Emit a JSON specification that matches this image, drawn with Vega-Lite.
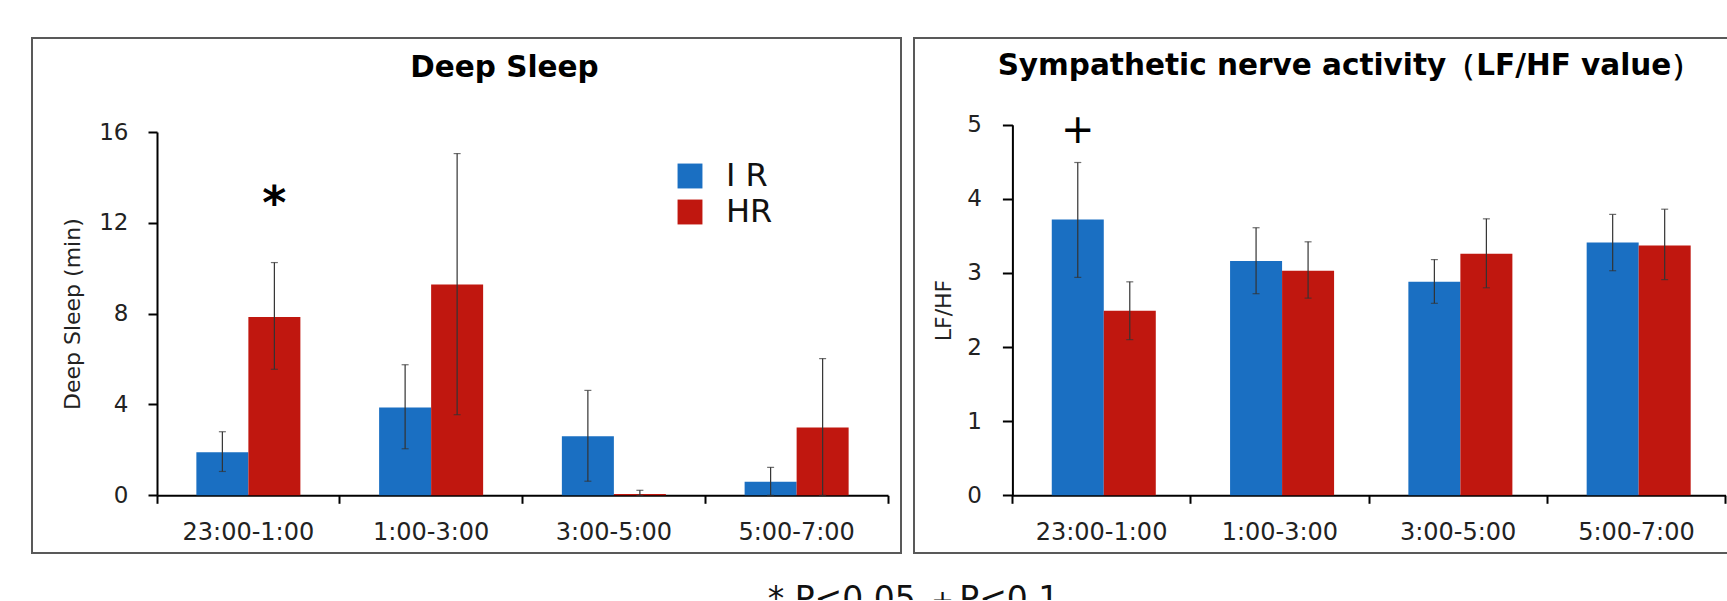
{
  "$schema": "https://vega.github.io/schema/vega-lite/v6.json",
  "background": "white",
  "padding": {"left": 31, "top": 37, "right": -57, "bottom": -17},
  "datasets": {
    "sleep": [
      {"period": "23:00-1:00", "group": "IR", "value": 1.9, "lo": 1.05, "hi": 2.8},
      {"period": "23:00-1:00", "group": "HR", "value": 7.85, "lo": 5.55, "hi": 10.25},
      {"period": "1:00-3:00", "group": "IR", "value": 3.87, "lo": 2.05, "hi": 5.75},
      {"period": "1:00-3:00", "group": "HR", "value": 9.28, "lo": 3.55, "hi": 15.05},
      {"period": "3:00-5:00", "group": "IR", "value": 2.6, "lo": 0.62, "hi": 4.62},
      {"period": "3:00-5:00", "group": "HR", "value": 0.06, "lo": 0, "hi": 0.22},
      {"period": "5:00-7:00", "group": "IR", "value": 0.6, "lo": 0, "hi": 1.23},
      {"period": "5:00-7:00", "group": "HR", "value": 2.99, "lo": 0, "hi": 6.02}
    ],
    "lfhf": [
      {"period": "23:00-1:00", "group": "IR", "value": 3.72, "lo": 2.94, "hi": 4.49},
      {"period": "23:00-1:00", "group": "HR", "value": 2.49, "lo": 2.1, "hi": 2.88},
      {"period": "1:00-3:00", "group": "IR", "value": 3.16, "lo": 2.72, "hi": 3.61},
      {"period": "1:00-3:00", "group": "HR", "value": 3.03, "lo": 2.66, "hi": 3.42},
      {"period": "3:00-5:00", "group": "IR", "value": 2.88, "lo": 2.59, "hi": 3.18},
      {"period": "3:00-5:00", "group": "HR", "value": 3.26, "lo": 2.8, "hi": 3.73},
      {"period": "5:00-7:00", "group": "IR", "value": 3.41, "lo": 3.03, "hi": 3.79},
      {"period": "5:00-7:00", "group": "HR", "value": 3.37, "lo": 2.91, "hi": 3.86}
    ],
    "sleepNote": [
      {"period": "23:00-1:00", "group": "HR", "y": 12.8, "label": "*"}
    ],
    "lfhfNote": [
      {"period": "23:00-1:00", "group": "IR", "y": 4.91, "label": "+"}
    ]
  },
  "title": {
    "text": "* P<0.05 ＋P<0.1",
    "orient": "bottom",
    "anchor": "middle",
    "frame": "bounds",
    "offset": 30,
    "dx": 6,
    "fontSize": 33,
    "font": "DejaVu Sans",
    "fontWeight": "normal",
    "baseline": "top",
    "color": "#111"
  },
  "spacing": 11,
  "resolve": {"scale": {"color": "independent"}, "legend": {"color": "independent"}},
  "hconcat": [
    {
      "width": 869,
      "height": 515,
      "title": {
        "text": "Deep Sleep",
        "font": "DejaVu Sans",
        "fontSize": 29.5,
        "fontWeight": "bold",
        "color": "black",
        "anchor": "middle",
        "frame": "group",
        "offset": -68,
        "baseline": "alphabetic",
        "dx": 38
      },
      "data": {"name": "sleep"},
      "encoding": {
        "x": {
          "field": "period",
          "type": "nominal",
          "sort": ["23:00-1:00", "1:00-3:00", "3:00-5:00", "5:00-7:00"],
          "scale": {"range": [125, 856], "paddingInner": 0, "paddingOuter": 0},
          "axis": {
            "title": null,
            "labelAngle": 0,
            "bandPosition": 1,
            "tickExtra": true,
            "offset": -57.7,
            "grid": false,
            "domainColor": "black",
            "domainWidth": 2,
            "tickColor": "black",
            "tickWidth": 2,
            "tickSize": 8,
            "labelFont": "DejaVu Sans",
            "labelFontSize": 24,
            "labelColor": "#222",
            "labelPadding": 17,
            "labelBaseline": "top"
          }
        },
        "xOffset": {
          "field": "group",
          "type": "nominal",
          "sort": ["IR", "HR"],
          "scale": {"paddingInner": 0, "paddingOuter": 0.757}
        }
      },
      "layer": [
        {
          "mark": {"type": "bar"},
          "encoding": {
            "y": {
              "field": "value",
              "type": "quantitative",
              "title": "Deep Sleep (min)",
              "scale": {"domain": [0, 16], "range": [457.3, 94], "nice": false},
              "axis": {
                "values": [0, 4, 8, 12, 16],
                "format": "d",
                "offset": -125,
                "grid": false,
                "domainColor": "black",
                "domainWidth": 2,
                "tickColor": "black",
                "tickWidth": 2,
                "tickSize": 9,
                "labelPadding": 20,
                "labelFont": "DejaVu Sans",
                "labelFontSize": 23,
                "labelColor": "#222",
                "titleFont": "DejaVu Sans",
                "titleFontSize": 22,
                "titleFontWeight": "normal",
                "titleColor": "#222",
                "titlePadding": 14
              }
            },
            "color": {
              "field": "group",
              "type": "nominal",
              "scale": {"domain": ["IR", "HR"], "range": ["#1A6FC2", "#C0170F"]},
              "legend": {
                "orient": "none",
                "legendX": 642,
                "legendY": 122,
                "title": null,
                "padding": 0,
                "symbolType": "square",
                "symbolSize": 620,
                "symbolStrokeWidth": 0,
                "labelFont": "DejaVu Sans",
                "labelFontSize": 32,
                "labelColor": "#111",
                "labelOffset": 20,
                "rowPadding": 4,
                "labelExpr": "datum.label == 'IR' ? 'I R' : '\u2002HR'"
              }
            }
          }
        },
        {
          "mark": {"type": "rule", "color": "#333", "strokeWidth": 1.2},
          "encoding": {
            "y": {"field": "lo", "type": "quantitative", "title": "Deep Sleep (min)"},
            "y2": {"field": "hi"}
          }
        },
        {
          "mark": {"type": "tick", "color": "#333", "size": 7, "thickness": 1.2},
          "encoding": {"y": {"field": "hi", "type": "quantitative", "title": "Deep Sleep (min)"}}
        },
        {
          "mark": {"type": "tick", "color": "#333", "size": 7, "thickness": 1.2},
          "encoding": {"y": {"field": "lo", "type": "quantitative", "title": "Deep Sleep (min)"}}
        },
        {
          "data": {"name": "sleepNote"},
          "mark": {"type": "text", "font": "DejaVu Sans", "fontSize": 46, "fontWeight": "bold", "baseline": "middle", "color": "black"},
          "encoding": {
            "y": {"field": "y", "type": "quantitative", "title": "Deep Sleep (min)"},
            "text": {"field": "label"}
          }
        }
      ]
    },
    {
      "width": 869,
      "height": 515,
      "title": {
        "text": "Sympathetic nerve activity（LF/HF value）",
        "font": "DejaVu Sans",
        "fontSize": 29.5,
        "fontWeight": "bold",
        "color": "black",
        "anchor": "middle",
        "frame": "group",
        "offset": -66,
        "baseline": "alphabetic",
        "dx": 1
      },
      "data": {"name": "lfhf"},
      "encoding": {
        "x": {
          "field": "period",
          "type": "nominal",
          "sort": ["23:00-1:00", "1:00-3:00", "3:00-5:00", "5:00-7:00"],
          "scale": {"range": [98.4, 811.6], "paddingInner": 0, "paddingOuter": 0},
          "axis": {
            "title": null,
            "labelAngle": 0,
            "bandPosition": 1,
            "tickExtra": true,
            "offset": -57.7,
            "grid": false,
            "domainColor": "black",
            "domainWidth": 2,
            "tickColor": "black",
            "tickWidth": 2,
            "tickSize": 8,
            "labelFont": "DejaVu Sans",
            "labelFontSize": 24,
            "labelColor": "#222",
            "labelPadding": 17,
            "labelBaseline": "top"
          }
        },
        "xOffset": {
          "field": "group",
          "type": "nominal",
          "sort": ["IR", "HR"],
          "scale": {"paddingInner": 0, "paddingOuter": 0.766}
        }
      },
      "layer": [
        {
          "mark": {"type": "bar"},
          "encoding": {
            "y": {
              "field": "value",
              "type": "quantitative",
              "title": "LF/HF",
              "scale": {"domain": [0, 5], "range": [457.3, 86.7], "nice": false},
              "axis": {
                "values": [0, 1, 2, 3, 4, 5],
                "format": "d",
                "offset": -98.4,
                "grid": false,
                "domainColor": "black",
                "domainWidth": 2,
                "tickColor": "black",
                "tickWidth": 2,
                "tickSize": 10,
                "labelPadding": 21,
                "labelFont": "DejaVu Sans",
                "labelFontSize": 23,
                "labelColor": "#222",
                "titleFont": "DejaVu Sans",
                "titleFontSize": 22,
                "titleFontWeight": "normal",
                "titleColor": "#222",
                "titlePadding": 11
              }
            },
            "color": {
              "field": "group",
              "type": "nominal",
              "scale": {"domain": ["IR", "HR"], "range": ["#1A6FC2", "#C0170F"]},
              "legend": null
            }
          }
        },
        {
          "mark": {"type": "rule", "color": "#333", "strokeWidth": 1.2},
          "encoding": {
            "y": {"field": "lo", "type": "quantitative", "title": "LF/HF"},
            "y2": {"field": "hi"}
          }
        },
        {
          "mark": {"type": "tick", "color": "#333", "size": 7, "thickness": 1.2},
          "encoding": {"y": {"field": "hi", "type": "quantitative", "title": "LF/HF"}}
        },
        {
          "mark": {"type": "tick", "color": "#333", "size": 7, "thickness": 1.2},
          "encoding": {"y": {"field": "lo", "type": "quantitative", "title": "LF/HF"}}
        },
        {
          "data": {"name": "lfhfNote"},
          "mark": {"type": "text", "font": "DejaVu Sans", "fontSize": 40, "fontWeight": "normal", "baseline": "middle", "color": "black"},
          "encoding": {
            "y": {"field": "y", "type": "quantitative", "title": "LF/HF"},
            "text": {"field": "label"}
          }
        }
      ]
    }
  ],
  "config": {
    "view": {"stroke": "#595959", "strokeWidth": 2},
    "axis": {"labelOverlap": false}
  }
}
